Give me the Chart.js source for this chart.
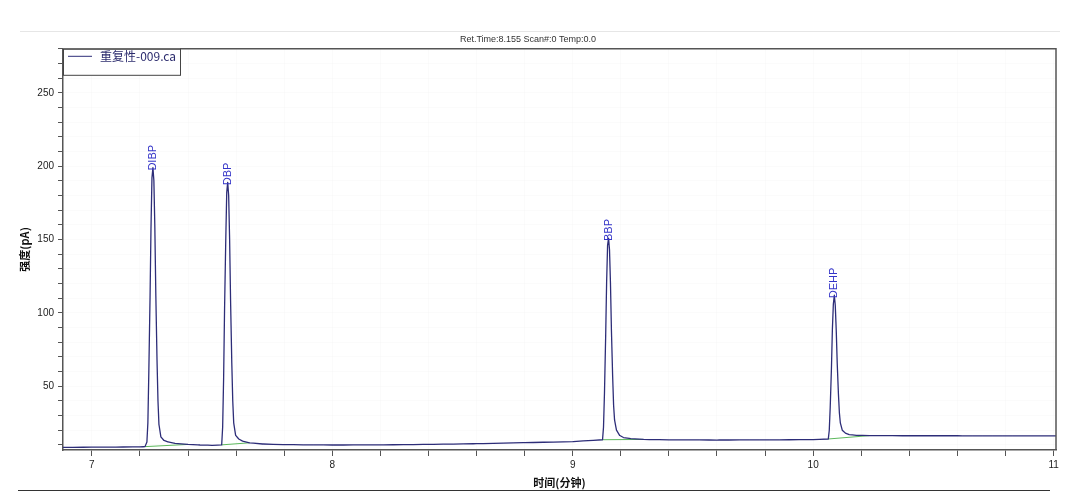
<!DOCTYPE html>
<html>
<head>
<meta charset="utf-8">
<script src="https://cdn.jsdelivr.net/npm/chart.js@4.4.0/dist/chart.umd.min.js"></script>
<style>
  html, body { margin: 0; padding: 0; background: #fff; }
  #wrap { width: 1080px; height: 497px; }
</style>
</head>
<body>
<div id="wrap"><canvas id="chrom"></canvas></div>
<script>
// retention time (min) and detector signal (pA)
const times = [
  6.88, 7.0, 7.1, 7.2, 7.221, 7.229, 7.233, 7.237, 7.242, 7.246, 7.250, 7.254,
  7.258, 7.262, 7.266, 7.271, 7.275, 7.279, 7.287, 7.300, 7.316, 7.346, 7.40,
  7.45, 7.50, 7.540, 7.544, 7.548, 7.552, 7.557, 7.561, 7.565, 7.569, 7.573,
  7.577, 7.582, 7.586, 7.590, 7.598, 7.611, 7.627, 7.656, 7.71, 7.80, 7.9,
  8.0, 8.2, 8.4, 8.6, 8.8, 9.0, 9.124, 9.128, 9.132, 9.137, 9.141, 9.145,
  9.149, 9.153, 9.157, 9.161, 9.166, 9.170, 9.174, 9.182, 9.195, 9.211, 9.241,
  9.295, 9.4, 9.6, 9.8, 10.0, 10.063, 10.067, 10.071, 10.076, 10.080, 10.084,
  10.088, 10.092, 10.096, 10.100, 10.105, 10.109, 10.113, 10.121, 10.134,
  10.150, 10.180, 10.234, 10.4, 10.6, 10.8, 11.01
]
const signal = [
  8.3, 8.4, 8.5, 8.6, 8.8, 12, 25, 60, 110, 158, 192, 199,
  190, 158, 113, 68, 40, 24, 15.5, 13, 12, 11, 10.3,
  9.9, 9.7, 10, 22, 55, 103, 150, 182, 189, 180, 150,
  108, 66, 40, 25, 16.5, 14, 12.6, 11.4, 10.6, 10.2, 10.0,
  9.9, 10.0, 10.3, 10.8, 11.5, 12.2, 13.5, 22, 45, 84, 121, 146,
  151, 143, 120, 88, 57, 37, 27, 20, 16.5, 15, 14.2,
  13.7, 13.4, 13.3, 13.4, 13.6, 14, 20, 36, 62, 89, 106,
  112, 105, 88, 66, 45, 32, 25, 20, 18,
  17, 16.5, 16.3, 16.2, 16.2, 16.1, 16.1
]

// integration baselines (green) under each peak: [start, end]
const baseTimes = [[7.221, 7.40], [7.540, 7.656], [9.124, 9.295], [10.063, 10.234]]
const baseValues = [[8.8, 10.3], [10.0, 11.4], [13.5, 13.7], [14.0, 16.3]]

const peakNames = ['DIBP', 'DBP', 'BBP', 'DEHP']
const peakTimes = [7.254, 7.565, 9.149, 10.088]
const peakHeights = [199, 189, 151, 112]

const sampleName = '重复性-009.ca'
const headerText = 'Ret.Time:8.155 Scan#:0 Temp:0.0'

const traceColor = '#2d2d78'
const baseColor = '#5cb85c'

let datasets = [{
  label: sampleName,
  data: times.map((t, i) => ({x: t, y: signal[i]})),
  borderColor: traceColor,
  borderWidth: 1.3,
  borderDash: [10, 0], // solid, but keeps chart.js off its pixel-merging fast path
  borderJoinStyle: 'round',
  pointRadius: 0,
  tension: 0
}]
baseTimes.forEach((seg, i) => {
  datasets.push({
    label: 'baseline' + i,
    data: seg.map((t, j) => ({x: t, y: baseValues[i][j]})),
    borderColor: baseColor,
    borderWidth: 1,
    pointRadius: 0
  })
})

// extra drawing: legend box, peak names, frame lines
const decorations = {
  id: 'decorations',
  afterDatasetsDraw(chart) {
    const {ctx, chartArea: a, scales: {x, y}} = chart
    ctx.save()
    // peak labels, vertical
    ctx.fillStyle = '#3434c8'
    ctx.font = '11px "Liberation Sans", Arial, sans-serif'
    ctx.textBaseline = 'middle'
    ctx.textAlign = 'left'
    peakNames.forEach((name, i) => {
      ctx.save()
      ctx.translate(x.getPixelForValue(peakTimes[i]), y.getPixelForValue(peakHeights[i]) + 3)
      ctx.rotate(-Math.PI / 2)
      ctx.fillText(name, 0, 0)
      ctx.restore()
    })
    // top and right frame
    ctx.strokeStyle = '#555'
    ctx.lineWidth = 1.5
    ctx.beginPath()
    ctx.moveTo(a.left, a.top)
    ctx.lineTo(a.right, a.top)
    ctx.lineTo(a.right, a.bottom)
    ctx.stroke()
    // legend box
    ctx.fillStyle = '#fff'
    ctx.fillRect(a.left, a.top, 117, 26)
    ctx.strokeStyle = '#444'
    ctx.lineWidth = 1
    ctx.strokeRect(a.left + 0.5, a.top + 0.5, 117, 26)
    ctx.strokeStyle = traceColor
    ctx.beginPath()
    ctx.moveTo(a.left + 5, a.top + 7.5)
    ctx.lineTo(a.left + 29, a.top + 7.5)
    ctx.stroke()
    ctx.fillStyle = '#2c2c6e'
    ctx.font = '12px "Noto Sans CJK SC", sans-serif'
    ctx.fillText(sampleName, a.left + 37, a.top + 8)
    // light line above header, dark line under x title
    ctx.strokeStyle = '#e6e6e6'
    ctx.beginPath()
    ctx.moveTo(20, 31.5)
    ctx.lineTo(1060, 31.5)
    ctx.stroke()
    ctx.strokeStyle = '#333'
    ctx.lineWidth = 1.2
    ctx.beginPath()
    ctx.moveTo(18, 490.5)
    ctx.lineTo(1050, 490.5)
    ctx.stroke()
    ctx.restore()
  }
}

const isWhole = (v, step) => Math.abs(v / step - Math.round(v / step)) < 1e-6

new Chart(document.getElementById('chrom'), {
  type: 'line',
  data: { datasets },
  options: {
    responsive: true,
    maintainAspectRatio: false,
    animation: false,
    layout: { padding: { left: 0, right: 24, top: 0, bottom: 0 } },
    plugins: {
      legend: { display: false },
      tooltip: { enabled: false },
      title: {
        display: true,
        text: headerText,
        color: '#333',
        font: { size: 9, family: '"Liberation Sans", Arial, sans-serif', weight: 'normal' },
        padding: { top: 34, bottom: 4 }
      }
    },
    scales: {
      x: {
        type: 'linear',
        min: 6.88,
        max: 11.01,
        afterFit: (s) => { s.height = 47 },
        border: { color: '#555', width: 1.5 },
        grid: { color: 'rgba(0,0,0,0.015)', tickColor: '#555', tickLength: 6, drawOnChartArea: true },
        ticks: {
          stepSize: 0.2,
          includeBounds: false,
          autoSkip: false,
          maxRotation: 0,
          padding: 3,
          color: '#222',
          font: { size: 10, family: '"Liberation Sans", Arial, sans-serif' },
          callback: (v) => isWhole(v, 1) ? Math.round(v) : ''
        },
        title: {
          display: true,
          text: '时间(分钟)',
          color: '#111',
          font: { size: 11, weight: 'bold', family: '"Noto Sans CJK SC", sans-serif' },
          padding: { top: 0, bottom: 8 }
        }
      },
      y: {
        min: 6.5,
        max: 280,
        afterFit: (s) => { s.width = 63 },
        border: { color: '#555', width: 1.5 },
        grid: { color: 'rgba(0,0,0,0.015)', tickColor: '#555', tickLength: 5 },
        ticks: {
          stepSize: 10,
          includeBounds: false,
          autoSkip: false,
          padding: 4,
          color: '#222',
          font: { size: 10, family: '"Liberation Sans", Arial, sans-serif' },
          callback: (v) => isWhole(v, 50) ? v : ''
        },
        title: {
          display: true,
          text: '强度(pA)',
          color: '#111',
          font: { size: 11, weight: 'bold', family: '"Noto Sans CJK SC", sans-serif' },
          padding: { top: 18, bottom: 0 }
        }
      }
    }
  },
  plugins: [decorations]
})
</script>
</body>
</html>
